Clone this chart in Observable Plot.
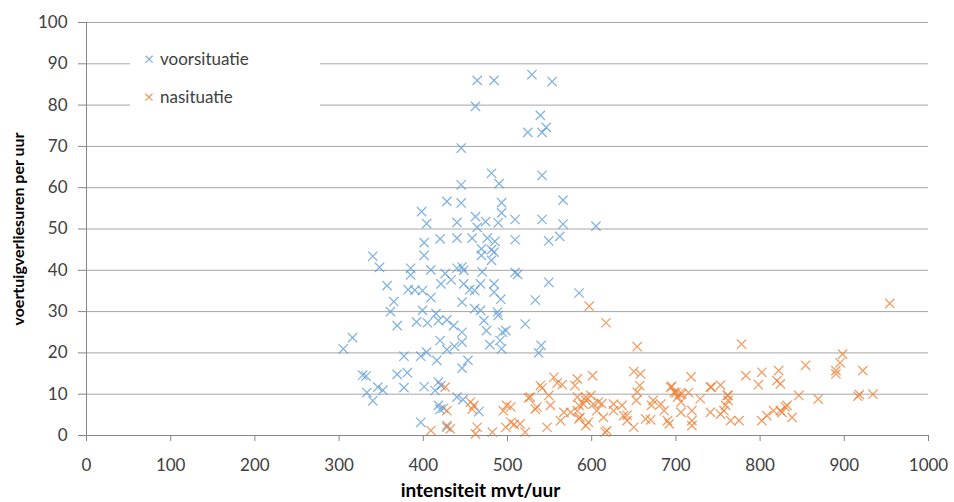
<!DOCTYPE html>
<html><head><meta charset="utf-8">
<script src="https://cdn.jsdelivr.net/npm/d3@7"></script>
<script src="https://cdn.jsdelivr.net/npm/@observablehq/plot@0.6"></script>
<style>
body{margin:0;background:#fff;font-family:Lato,"Open Sans",sans-serif;}
#wrap{position:relative;width:954px;height:502px;}
#legend{position:absolute;left:130px;top:38px;width:190px;height:76px;background:#fff;font-size:17px;color:#404040;}
.li{position:absolute;left:12px;display:flex;align-items:center;gap:4px;height:20px;}
.mk{font-size:18px;width:14px;text-align:center;}
</style></head>
<body><div id="wrap"></div>
<script>
const seriesNames = ["voorsituatie","nasituatie"];
const seriesColors = ["#5b9bd5","#ed7d31"];
const xTicks = [0,100,200,300,400,500,600,700,800,900,1000];
const yTicks = [0,10,20,30,40,50,60,70,80,90,100];
const xTitle = "intensiteit mvt/uur";
const yTitle = "voertuigverliesuren per uur";

const voorX = [464,484,529,553,462,539,524,541,546,445,481,490,541,445,428,445,493,566,493,
398,404,440,462,474,464,489,509,541,566,605,401,420,440,458,476,485,509,549,562,
469,469,481,484,481,401,340,348,385,385,409,426,440,446,448,470,509,512,549,
357,382,390,399,421,433,448,455,461,468,484,484,492,533,585,
365,361,399,409,415,418,428,436,446,461,468,472,475,488,489,521,498,494,446,
369,392,405,316,305,420,428,437,446,479,491,493,540,537,
377,397,404,416,453,446,328,332,369,381,346,352,333,340,377,401,418,421,414,440,447,420,424,418,466,397,428];
const voorY = [86,86,87.4,85.7,79.7,77.5,73.4,73.4,74.6,69.6,63.5,61,63,60.7,56.7,56.3,56.4,57,53.9,
54.2,51.3,51.6,53,51.8,50.4,51.5,52.3,52.3,51.2,50.7,46.7,47.6,47.8,47.8,47.8,47,47.4,47.1,48.2,
45.2,43.6,45,44.4,42.4,43.6,43.4,40.7,40.5,38.9,40.1,39.2,40.5,40.8,40,39.6,39.5,39,37.1,
36.3,35.3,35.2,35.1,36.7,37.7,36.7,35.3,35.1,36.7,36.7,34.7,33,32.8,34.5,
32.4,30,30.3,33.4,29.5,27.8,28,26.6,32.3,30.7,30.3,27.8,25.4,29.9,29.1,27,25.4,25,25,
26.6,27.5,27.3,23.7,21,23,20.8,21.6,22.6,22,23,21,21.8,20,
19.2,19.2,20.2,18.2,18.2,16.3,14.6,14.4,14.8,15.2,11.7,11,10.4,8.4,11.6,11.8,12.9,12.1,10.9,9.3,8.7,6.3,6.6,7.3,5.8,3.2,2];

const naX = [597,617,654,778,954,898,895,890,890,922,854,783,802,798,822,820,824,
718,650,658,657,654,601,583,580,565,555,559,539,541,
695,700,704,715,742,753,762,762,729,846,869,918,934,916,
593,599,608,612,527,525,549,426,456,458,499,504,495,533,535,551,567,583,590,583,586,596,614,626,
504,515,498,547,521,482,464,462,409,428,432,428,616,460,563,575,585,593,602,606,618,626,636,642,585,593,508,
653,673,671,694,698,702,707,741,761,759,638,642,650,664,670,686,690,692,706,719,719,719,741,753,757,765,775,802,808,816,824,832,682,706,830,826,838];
const naY = [31.3,27.3,21.5,22.1,32,19.7,17.6,15.7,14.9,15.7,17,14.5,15.3,12.3,15.7,13.3,12.5,
14.2,15.5,14.9,12.1,10.5,14.5,13.7,12.1,12.3,14.1,12.7,12.1,11.5,
11.9,10.3,10.1,10.4,11.7,12.2,9.7,8.5,8.9,9.7,8.8,9.9,10,9.5,
9.3,9.7,8.1,7.7,9.3,9.1,9.7,11.7,8.1,6.4,7.3,6.9,6,6.4,6.9,7.3,5.6,9.3,7.6,6,4.4,3.2,4.4,6,
3.2,2.8,2,2,0.8,0.8,2,0.4,1.2,2.4,1.6,6,0.8,7.3,3.6,5.6,7.3,8.5,7.6,6,1.2,7.6,7.3,4.9,4,2.4,2.7,
8.5,8.5,7.3,11.7,10.5,9.3,10.1,11.7,9.7,7.3,4.8,3.6,2,4,3.8,6,3.6,2.8,5.6,6,3.6,2.4,5.6,5.2,6,3.6,3.6,3.6,4.8,6,6,7.3,7.6,8.1,6.9,5.6,4.4];

const voor = voorX.map((x,i)=>({x, y: voorY[i]}));
const na = naX.map((x,i)=>({x, y: naY[i]}));

const axisColor = "#868686";
const chart = Plot.plot({
  width: 954, height: 502,
  marginLeft: 86, marginRight: 26, marginTop: 22, marginBottom: 67,
  style: {fontFamily: "Lato, 'Open Sans', sans-serif", fontSize: "17px", color: "#404040", background: "#fff"},
  x: {domain: [0,1000]},
  y: {domain: [0,100]},
  marks: [
    Plot.gridY(yTicks, {stroke: "#a6a6a6", strokeOpacity: 1}),
    Plot.ruleX([0], {stroke: axisColor}),
    Plot.ruleY([0], {stroke: axisColor}),
    Plot.axisY(yTicks, {tickSize: 8, tickPadding: 11, stroke: axisColor, label: null, tickFormat: d => String(d)}),
    Plot.axisX(xTicks, {tickSize: 6, tickPadding: 17, stroke: axisColor, label: null, tickFormat: d => String(d)}),
    Plot.dot(voor, {x: "x", y: "y", symbol: "times", r: 4.3, stroke: seriesColors[0], strokeWidth: 1.3, strokeOpacity: 0.75}),
    Plot.dot(na, {x: "x", y: "y", symbol: "times", r: 4.3, stroke: seriesColors[1], strokeWidth: 1.3, strokeOpacity: 0.75}),
    Plot.text([yTitle], {frameAnchor: "left", rotate: -90, dx: -68, textAnchor: "middle", lineAnchor: "middle", fontWeight: "bold", fontSize: 16, fill: "#000"}),
    Plot.text([xTitle], {frameAnchor: "bottom", dy: 55, dx: -27, textAnchor: "middle", lineAnchor: "middle", fontWeight: "bold", fontSize: 19, fill: "#000"})
  ]
});
const wrap = document.getElementById("wrap");
wrap.appendChild(chart);
const leg = document.createElement("div");
leg.id = "legend";
seriesNames.forEach((n,i)=>{
  const row = document.createElement("div");
  row.className = "li";
  row.style.top = (i === 0 ? 10 : 48) + "px";
  const m = document.createElement("span");
  m.className = "mk"; m.textContent = "×"; m.style.color = seriesColors[i]; m.style.opacity = 0.75;
  const t = document.createElement("span"); t.textContent = n;
  row.appendChild(m); row.appendChild(t);
  leg.appendChild(row);
});
wrap.appendChild(leg);
</script></body></html>
